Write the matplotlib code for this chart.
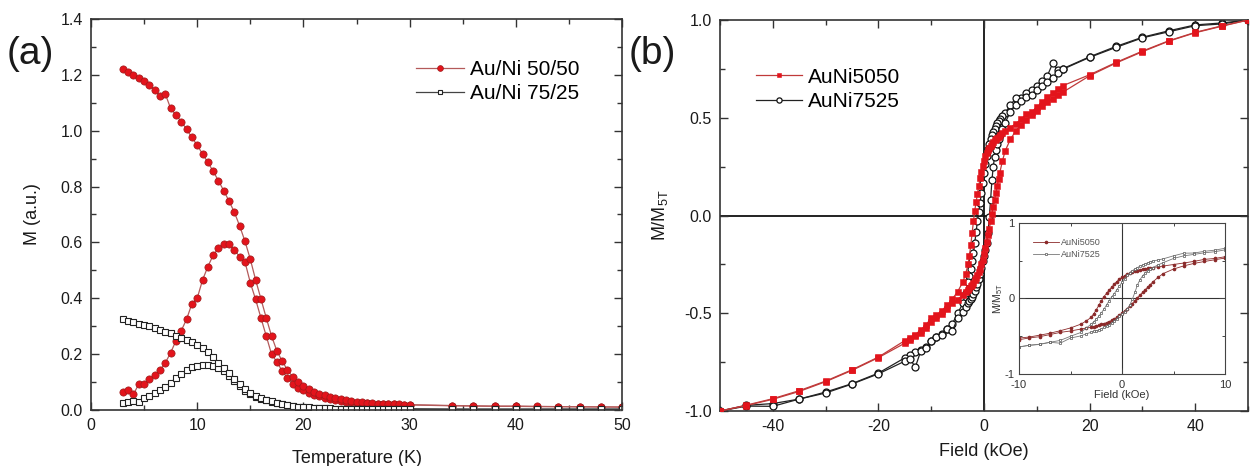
import numpy as np
import matplotlib.pyplot as plt
from matplotlib.ticker import MultipleLocator

plt.rcParams['font.family'] = ['Liberation Sans', 'DejaVu Sans']
plt.rcParams['axes.unicode_minus'] = False
plt.rcParams['mathtext.default'] = 'regular'

# ---- panel (a): M vs T, ZFC and FC branches ----
temp = [3.0, 3.5, 4.0, 4.5, 5.0, 5.5, 6.0, 6.5, 7.0, 7.5, 8.0, 8.5, 9.0, 9.5,
        10.0, 10.5, 11.0, 11.5, 12.0, 12.5, 13.0, 13.5, 14.0, 14.5, 15.0, 15.5,
        16.0, 16.5, 17.0, 17.5, 18.0, 18.5, 19.0, 19.5, 20.0, 20.5, 21.0, 21.5,
        22.0, 22.5, 23.0, 23.5, 24.0, 24.5, 25.0, 25.5, 26.0, 26.5, 27.0, 27.5,
        28.0, 28.5, 29.0, 29.5, 30.0, 34, 36, 38, 40, 42, 44, 46, 48, 50]

m50_zfc = [0.066, 0.072, 0.056, 0.093, 0.093, 0.110, 0.125, 0.143, 0.169, 0.205,
           0.248, 0.284, 0.325, 0.380, 0.400, 0.465, 0.513, 0.554, 0.580, 0.594,
           0.593, 0.573, 0.549, 0.530, 0.456, 0.396, 0.330, 0.265, 0.200, 0.172,
           0.140, 0.115, 0.094, 0.080, 0.070, 0.062, 0.055, 0.049, 0.044, 0.040,
           0.036, 0.033, 0.030, 0.028, 0.026, 0.025, 0.024, 0.023, 0.022, 0.021,
           0.020, 0.020, 0.019, 0.019, 0.018, 0.015, 0.014, 0.013, 0.013, 0.012,
           0.012, 0.011, 0.011, 0.010]
m50_fc = [1.220, 1.210, 1.200, 1.190, 1.178, 1.163, 1.146, 1.124, 1.131, 1.080,
          1.056, 1.033, 1.005, 0.976, 0.948, 0.917, 0.887, 0.855, 0.821, 0.785,
          0.748, 0.708, 0.659, 0.604, 0.540, 0.466, 0.398, 0.330, 0.265, 0.212,
          0.175, 0.143, 0.118, 0.099, 0.086, 0.075, 0.066, 0.059, 0.053, 0.047,
          0.042, 0.038, 0.034, 0.031, 0.029, 0.027, 0.025, 0.024, 0.023, 0.022,
          0.021, 0.020, 0.020, 0.019, 0.019, 0.016, 0.015, 0.014, 0.014, 0.013,
          0.012, 0.012, 0.011, 0.011]
m75_zfc = [0.026, 0.030, 0.032, 0.030, 0.042, 0.050, 0.060, 0.072, 0.084, 0.098,
           0.115, 0.130, 0.143, 0.153, 0.158, 0.161, 0.161, 0.157, 0.150, 0.138,
           0.122, 0.104, 0.086, 0.069, 0.056, 0.047, 0.040, 0.034, 0.029, 0.024,
           0.020, 0.017, 0.014, 0.011, 0.009, 0.008, 0.007, 0.006, 0.006, 0.005,
           0.005, 0.005, 0.004, 0.004, 0.004, 0.004, 0.004, 0.004, 0.004, 0.004,
           0.004, 0.004, 0.004, 0.004, 0.004, 0.003, 0.003, 0.003, 0.003, 0.003,
           0.003, 0.003, 0.003, 0.003]
m75_fc = [0.325, 0.320, 0.314, 0.309, 0.304, 0.299, 0.293, 0.287, 0.281, 0.274,
          0.266, 0.259, 0.250, 0.242, 0.233, 0.222, 0.209, 0.189, 0.170, 0.152,
          0.133, 0.112, 0.092, 0.074, 0.060, 0.050, 0.042, 0.036, 0.031, 0.026,
          0.022, 0.018, 0.015, 0.012, 0.010, 0.009, 0.008, 0.007, 0.006, 0.006,
          0.005, 0.005, 0.005, 0.005, 0.004, 0.004, 0.004, 0.004, 0.004, 0.004,
          0.004, 0.004, 0.004, 0.004, 0.004, 0.003, 0.003, 0.003, 0.003, 0.003,
          0.003, 0.003, 0.003, 0.003]

# ---- panel (b): hysteresis loops, field in kOe ----
h_desc = [50, 45, 40, 35, 30, 25, 20, 15, 14, 13, 12, 11, 10, 9, 8, 7, 6, 5, 4,
          3.5, 3, 2.75, 2.5, 2.25, 2, 1.75, 1.5, 1.25, 1, 0.75, 0.5, 0.25, 0,
          -0.25, -0.5, -0.75, -1, -1.25, -1.5, -1.75, -2, -2.25, -2.5, -2.75, -3,
          -3.5, -4, -5, -6, -7, -8, -9, -10, -11, -12, -13, -14, -15,
          -20, -25, -30, -35, -40, -45, -50]
h_asc = h_desc[::-1]

m5050_desc = [1.000, 0.970, 0.937, 0.894, 0.841, 0.783, 0.720, 0.665, 0.645, 0.625,
              0.605, 0.580, 0.553, 0.530, 0.518, 0.492, 0.470, 0.450, 0.430, 0.420,
              0.410, 0.404, 0.398, 0.391, 0.384, 0.377, 0.368, 0.358, 0.347, 0.335,
              0.320, 0.302, 0.280, 0.255, 0.225, 0.190, 0.150, 0.110, 0.068, 0.025,
              -0.030, -0.090, -0.150, -0.205, -0.250, -0.300, -0.340, -0.390, -0.427,
              -0.460, -0.486, -0.510, -0.524, -0.560, -0.585, -0.609, -0.625, -0.640,
              -0.724, -0.789, -0.847, -0.896, -0.937, -0.970, -1.000]
m5050_asc = [-1.000, -0.972, -0.940, -0.900, -0.850, -0.792, -0.727, -0.653, -0.636,
             -0.618, -0.600, -0.575, -0.546, -0.522, -0.506, -0.478, -0.449, -0.430,
             -0.405, -0.392, -0.380, -0.372, -0.363, -0.353, -0.343, -0.332, -0.320,
             -0.306, -0.290, -0.272, -0.250, -0.225, -0.195, -0.165, -0.135, -0.100,
             -0.068, -0.030, 0.010, 0.045, 0.080, 0.115, 0.150, 0.185, 0.220, 0.280,
             0.330, 0.390, 0.432, 0.465, 0.490, 0.513, 0.535, 0.560, 0.582, 0.597,
             0.615, 0.632, 0.715, 0.780, 0.838, 0.892, 0.935, 0.968, 1.000]
m7525_desc = [1.000, 0.985, 0.975, 0.945, 0.912, 0.865, 0.812, 0.752, 0.745, 0.778,
              0.715, 0.690, 0.665, 0.640, 0.625, 0.602, 0.600, 0.565, 0.525, 0.510,
              0.495, 0.485, 0.472, 0.458, 0.443, 0.428, 0.410, 0.390, 0.368, 0.340,
              0.305, 0.262, 0.215, 0.165, 0.115, 0.065, 0.020, -0.030, -0.085, -0.140,
              -0.190, -0.235, -0.275, -0.310, -0.340, -0.395, -0.450, -0.500, -0.555,
              -0.580, -0.605, -0.620, -0.640, -0.675, -0.690, -0.699, -0.715, -0.728,
              -0.806, -0.860, -0.903, -0.939, -0.962, -0.971, -1.000]
m7525_asc = [-1.000, -0.975, -0.976, -0.939, -0.908, -0.862, -0.810, -0.745, -0.735,
             -0.775, -0.695, -0.677, -0.643, -0.619, -0.609, -0.580, -0.592, -0.524,
             -0.495, -0.470, -0.447, -0.435, -0.425, -0.418, -0.400, -0.384, -0.367,
             -0.350, -0.325, -0.299, -0.268, -0.235, -0.205, -0.175, -0.140, -0.090,
             -0.010, 0.080, 0.180, 0.250, 0.300, 0.335, 0.365, 0.390, 0.410, 0.445,
             0.475, 0.530, 0.565, 0.584, 0.605, 0.619, 0.644, 0.665, 0.685, 0.704,
             0.728, 0.749, 0.809, 0.860, 0.909, 0.940, 0.971, 0.980, 1.000]

RED = '#e3141c'
RED_EDGE = '#9e1a1a'
RED_LINE = '#b45a5a'
GREY_LINE = '#444444'
TXT = '#1a1a1a'

fig = plt.figure(figsize=(12.5, 4.66), dpi=100)


def style_axes(ax, size=11.5, major=6, minor=3.5):
    ax.tick_params(which='both', direction='in', top=True, right=True,
                   labelsize=size, colors='#333333', labelcolor=TXT, pad=6)
    ax.tick_params(which='major', length=major, width=1)
    ax.tick_params(which='minor', length=minor, width=1)
    for s in ax.spines.values():
        s.set_linewidth(1.2)
        s.set_color('#333333')


# (a)
ax1 = fig.add_axes([0.0728, 0.1202, 0.4248, 0.839])
red_kw = dict(color=RED_LINE, lw=0.9, marker='o', ms=5.2, mfc=RED, mec=RED_EDGE, mew=0.5)
blk_kw = dict(color=GREY_LINE, lw=0.9, marker='s', ms=3.8, mfc='white', mec='#222222', mew=0.8)
ax1.plot(temp, m50_zfc, **red_kw, label='Au/Ni 50/50')
ax1.plot(temp, m50_fc, **red_kw)
ax1.plot(temp, m75_zfc, **blk_kw, label='Au/Ni 75/25')
ax1.plot(temp, m75_fc, **blk_kw)
ax1.set_xlim(0, 50)
ax1.set_ylim(0, 1.4)
ax1.xaxis.set_major_locator(MultipleLocator(10))
ax1.xaxis.set_minor_locator(MultipleLocator(5))
ax1.yaxis.set_major_locator(MultipleLocator(0.2))
ax1.yaxis.set_minor_locator(MultipleLocator(0.1))
ax1.yaxis.set_major_formatter(plt.FormatStrFormatter('%.1f'))
style_axes(ax1)
ax1.set_xlabel('Temperature (K)', fontsize=13, color=TXT, labelpad=12)
ax1.set_ylabel('M (a.u.)', fontsize=13, color=TXT, labelpad=14)
ax1.legend(loc='upper left', bbox_to_anchor=(0.612, 0.895), frameon=False,
           fontsize=15, numpoints=1, handlelength=2.3, handletextpad=0.3,
           labelspacing=0.25, borderpad=0, borderaxespad=0, markerscale=0.8)
fig.text(0.005, 0.885, '(a)', fontsize=28, color=TXT, va='center', ha='left')

# (b)
ax2 = fig.add_axes([0.576, 0.118, 0.4224, 0.839])
red_sq = dict(color='#c03a3a', lw=0.9, marker='s', ms=4.6, mfc=RED, mec=RED, mew=0.4)
blk_ci = dict(color='#222222', lw=0.9, marker='o', ms=5.0, mfc='white', mec='#111111', mew=0.9)
ax2.axhline(0, color='#111111', lw=1.3, zorder=1)
ax2.axvline(0, color='#111111', lw=1.3, zorder=1)
ax2.plot(h_desc, m5050_desc, **red_sq, label='AuNi5050', zorder=3)
ax2.plot(h_asc, m5050_asc, **red_sq, zorder=3)
ax2.plot(h_desc, m7525_desc, **blk_ci, label='AuNi7525', zorder=2)
ax2.plot(h_asc, m7525_asc, **blk_ci, zorder=2)
ax2.set_xlim(-50, 50)
ax2.set_ylim(-1, 1)
ax2.xaxis.set_major_locator(MultipleLocator(20))
ax2.xaxis.set_minor_locator(MultipleLocator(10))
ax2.yaxis.set_major_locator(MultipleLocator(0.5))
ax2.yaxis.set_minor_locator(MultipleLocator(0.25))
ax2.yaxis.set_major_formatter(plt.FormatStrFormatter('%.1f'))
style_axes(ax2)
ax2.set_xlabel('Field (kOe)', fontsize=13, color=TXT, labelpad=6)
ax2.set_ylabel('M/M$_{5T}$', fontsize=13, color=TXT, labelpad=10)
ax2.legend(loc='upper left', bbox_to_anchor=(0.068, 0.878), frameon=False,
           fontsize=15, numpoints=1, handlelength=2.2, handletextpad=0.3,
           labelspacing=0.25, borderpad=0, borderaxespad=0, markerscale=0.75)
fig.text(0.503, 0.885, '(b)', fontsize=28, color=TXT, va='center', ha='left')

# inset: same loops, zoomed to +-10 kOe
ins = fig.add_axes([0.8152, 0.1974, 0.1648, 0.3241])
ins.axhline(0, color='#333333', lw=0.8, zorder=1)
ins.axvline(0, color='#333333', lw=0.8, zorder=1)
sel_d = [i for i, h in enumerate(h_desc) if abs(h) <= 10]
sel_a = [i for i, h in enumerate(h_asc) if abs(h) <= 10]
in_red = dict(color='#8b2a2a', lw=0.6, marker='o', ms=1.6, mfc='#8b2a2a', mec='#8b2a2a')
in_gry = dict(color='#777777', lw=0.6, marker='s', ms=1.8, mfc='white', mec='#555555', mew=0.5)
ins.plot([h_desc[i] for i in sel_d], [m5050_desc[i] for i in sel_d], **in_red, label='AuNi5050')
ins.plot([h_asc[i] for i in sel_a], [m5050_asc[i] for i in sel_a], **in_red)
ins.plot([h_desc[i] for i in sel_d], [m7525_desc[i] for i in sel_d], **in_gry, label='AuNi7525')
ins.plot([h_asc[i] for i in sel_a], [m7525_asc[i] for i in sel_a], **in_gry)
ins.set_xlim(-10, 10)
ins.set_ylim(-1, 1)
ins.xaxis.set_major_locator(MultipleLocator(10))
ins.xaxis.set_minor_locator(MultipleLocator(5))
ins.yaxis.set_major_locator(MultipleLocator(1))
ins.yaxis.set_minor_locator(MultipleLocator(0.5))
ins.tick_params(which='both', direction='in', top=True, right=True,
                labelsize=8, colors='#444444', labelcolor='#333333')
ins.tick_params(axis='x', pad=4)
ins.tick_params(axis='y', pad=3)
ins.tick_params(which='major', length=4, width=0.7)
ins.tick_params(which='minor', length=2.5, width=0.7)
for s in ins.spines.values():
    s.set_linewidth(0.8)
    s.set_color('#444444')
ins.set_xlabel('Field (kOe)', fontsize=8, color='#333333', labelpad=0)
ins.set_ylabel('M/M$_{5T}$', fontsize=7.5, color='#333333', labelpad=0)
ins.legend(loc='upper left', bbox_to_anchor=(0.07, 0.9), frameon=False,
           fontsize=6.5, numpoints=1, handlelength=2.8, handletextpad=0.3,
           labelspacing=0.3, borderpad=0, borderaxespad=0, labelcolor='#555555')

fig.savefig('out.png', dpi=100)
